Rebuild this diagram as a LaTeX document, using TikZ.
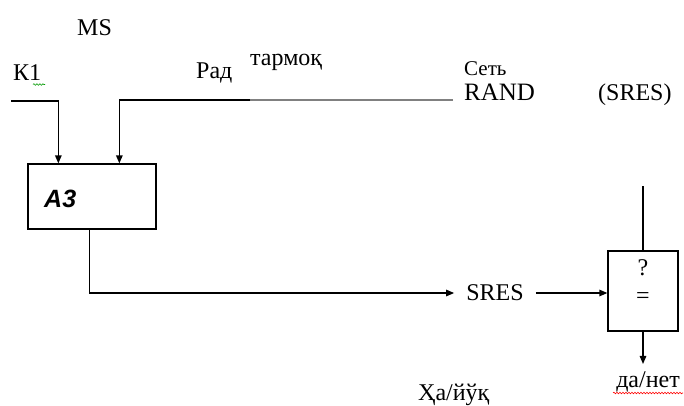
\documentclass[tikz,border=0pt]{standalone}
\usepackage{fontspec}
\setmainfont{Liberation Serif}
\newfontfamily\arialfont{Liberation Sans}
\usetikzlibrary{arrows.meta,decorations.pathmorphing}
\begin{document}
\begin{tikzpicture}[x=1pt,y=-1pt,
  txt/.style={font=\fontsize{24}{28}\selectfont, inner sep=0pt},
  blk/.style={draw, line width=1.3pt, inner sep=0pt},
  conn/.style={line width=1.3pt, -{Triangle[length=8pt,width=6.5pt]}},
  plain/.style={line width=1.3pt},
  wavy/.style={decorate, decoration={snake, amplitude=0.8pt, segment length=3pt}, line width=0.6pt}]
\useasboundingbox (0,0) rectangle (684,405);

% texts
\node[txt, anchor=base west] (ms) at (77,35) {MS};
\node[txt, anchor=base west] (k1) at (13,80) {К1};
\node[txt, anchor=base west] (rad) at (196,78) {Рад};
\node[txt, anchor=base west] (tarmoq) at (250,65) {тармоқ};
\node[txt, anchor=base west, font=\fontsize{21}{24}\selectfont] (set) at (464,75) {Сеть};
\node[txt, anchor=base west, font=\fontsize{25}{28}\selectfont] (rand) at (464,100) {RAND};
\node[txt, anchor=base west] (sresp) at (598,100) {(SRES)};
\node[txt, inner xsep=12pt] (sres) at (495,293) {SRES};
\node[txt, anchor=base west] (haiyuk) at (418,400) {Ҳа/йўқ};

% blocks
\node[blk, minimum width=128pt, minimum height=65pt] (a3) at (92,196.5) {};
\node[font=\arialfont\bfseries\itshape\fontsize{25}{28}\selectfont, inner sep=0pt, anchor=base west] (a3t) at (44,207) {A3};
\node[blk, minimum width=70pt, minimum height=80pt] (cmp) at (643,291) {};
\node[txt, anchor=base] (q) at (643,275) {?};
\node[txt] (eq) at (643,298) {=};
\node[txt, anchor=base, inner ysep=7pt, inner xsep=1pt] (danet) at (648,387) {да/нет};

% connectors
\coordinate (k1s) at (11,101);
\draw[conn] (k1s) -| ([xshift=31pt]a3.north west);
\coordinate (randend) at (453,100);
\coordinate (graystart) at (250,100);
\draw[plain, gray] (randend) -- (graystart);
\draw[conn] (graystart) -| ([xshift=92pt]a3.north west);
\draw[conn] ([xshift=62pt]a3.south west) |- (sres.west);
\draw[conn] (sres.east) -- (sres.east -| cmp.west);
\coordinate (cmptop) at (643,186);
\draw[plain] (cmptop) -- (cmp.north);
\draw[conn] (cmp.south) -- (cmp.south |- danet.north);

% spell-check underlines
\draw[wavy, green!60!black] (33,84.5) -- (45,84.5);
\draw[wavy, red] (613,393) -- (683,393);
\end{tikzpicture}
\end{document}
